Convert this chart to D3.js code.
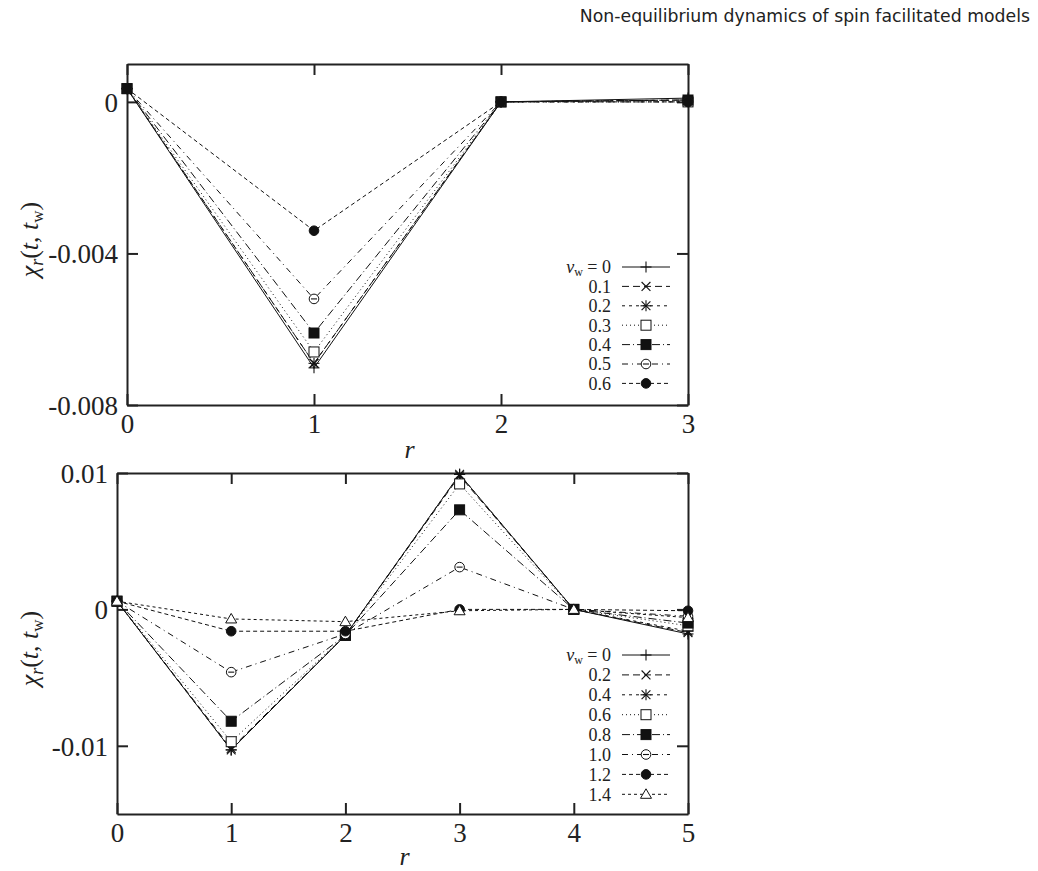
<!DOCTYPE html>
<html>
<head>
<meta charset="utf-8">
<script src="https://cdn.jsdelivr.net/npm/d3@7"></script>
<style>
  body { margin: 0; background: #fff; }
  svg text { fill: #222; }
</style>
</head>
<body>
<script>
// ---- data ----
const rTop = [0, 1, 2, 3]
const nuTop = ["0", "0.1", "0.2", "0.3", "0.4", "0.5", "0.6"]
const chiTop = [
  [0.00035, -0.00702, 0.0, 0.0001],
  [0.00035, -0.0069, 0.0, 0.00005],
  [0.00035, -0.0069, 0.0, 0.00005],
  [0.00035, -0.0066, 0.0, 0.0],
  [0.00035, -0.0061, 0.0, 0.00005],
  [0.00035, -0.0052, 0.0, 0.0],
  [0.00035, -0.0034, 0.0, 0.0]
]
const yTicksTop = [0, -0.004, -0.008]
const yTickLabelsTop = ["0", "-0.004", "-0.008"]

const rBot = [0, 1, 2, 3, 4, 5]
const nuBot = ["0", "0.2", "0.4", "0.6", "0.8", "1.0", "1.2", "1.4"]
const chiBot = [
  [0.0006, -0.0103, -0.0019, 0.0099, 0.0, -0.0018],
  [0.0006, -0.0102, -0.0019, 0.0098, 0.0, -0.0017],
  [0.0006, -0.0103, -0.0019, 0.0099, 0.0, -0.0016],
  [0.0006, -0.0097, -0.0019, 0.0092, 0.0, -0.0012],
  [0.0006, -0.0082, -0.0019, 0.0073, 0.0, -0.0010],
  [0.0006, -0.0046, -0.0018, 0.0031, 0.0, -0.0005],
  [0.0006, -0.0016, -0.0016, 0.0, 0.0, -0.0001],
  [0.0006, -0.0007, -0.0009, -0.0001, 0.0, -0.0006]
]
const yTicksBot = [0.01, 0, -0.01]
const yTickLabelsBot = ["0.01", "0", "-0.01"]

// line styles and point symbols, in legend order
const dashes = ["", "7,4", "3,4", "1,3", "8,3,1,3", "6,4,1,4", "4,3", "3,3"]
const symbols = ["plus", "cross", "star", "box", "boxF", "circ", "circF", "tri"]

const serif = "'Liberation Serif', 'DejaVu Serif', serif"

const svg = d3.select("body").append("svg")
  .attr("width", 1038).attr("height", 871)

svg.append("text")
  .attr("x", 1030).attr("y", 22)
  .attr("text-anchor", "end")
  .style("font-family", "'DejaVu Sans', sans-serif")
  .style("font-size", "17.3px")
  .text("Non-equilibrium dynamics of spin facilitated models")

function drawSymbol(g, type, x, y) {
  const s = 5.5
  const line = (x1, y1, x2, y2) => g.append("line")
    .attr("x1", x1).attr("y1", y1).attr("x2", x2).attr("y2", y2)
    .attr("stroke", "#111").attr("stroke-width", 1.1)
  if (type === "plus" || type === "star") {
    line(x - s, y, x + s, y); line(x, y - s, x, y + s)
  }
  if (type === "cross" || type === "star") {
    const k = s * 0.8
    line(x - k, y - k, x + k, y + k); line(x - k, y + k, x + k, y - k)
  }
  if (type === "box" || type === "boxF") {
    g.append("rect").attr("x", x - 5).attr("y", y - 5).attr("width", 10).attr("height", 10)
      .attr("fill", type === "boxF" ? "#111" : "#fff")
      .attr("stroke", "#111").attr("stroke-width", 1)
  }
  if (type === "circ" || type === "circF") {
    g.append("circle").attr("cx", x).attr("cy", y).attr("r", 4.8)
      .attr("fill", type === "circF" ? "#111" : "#fff")
      .attr("stroke", "#111").attr("stroke-width", 1)
    if (type === "circ") line(x - 3, y, x + 3, y)
  }
  if (type === "tri") {
    g.append("path")
      .attr("d", `M${x},${y - 5.5}L${x + 5.5},${y + 4}L${x - 5.5},${y + 4}Z`)
      .attr("fill", "#fff").attr("stroke", "#111").attr("stroke-width", 1)
  }
}

function ylabel(g, x, y) {
  const t = g.append("text")
    .attr("transform", `translate(${x},${y}) rotate(-90)`)
    .attr("text-anchor", "middle")
    .style("font-family", serif).style("font-size", "26px")
  t.append("tspan").style("font-style", "italic").text("χ")
  t.append("tspan").style("font-style", "italic").style("font-size", "18px").attr("dy", 5).text("r")
  t.append("tspan").attr("dy", -5).text("(")
  t.append("tspan").style("font-style", "italic").text("t")
  t.append("tspan").text(", ")
  t.append("tspan").style("font-style", "italic").text("t")
  t.append("tspan").style("font-size", "17px").attr("dy", 5).text("w")
  t.append("tspan").attr("dy", -5).text(")")
}

function drawPanel(p) {
  const x = d3.scaleLinear().domain(p.xDomain).range([p.left, p.right])
  const y = d3.scaleLinear().domain(p.yDomain).range([p.bottom, p.top])
  const g = svg.append("g")

  const tick = 11
  const fmt = (v) => p.yLabels[p.yTicks.indexOf(v)]

  const axB = g.append("g").attr("transform", `translate(0,${p.bottom})`)
    .call(d3.axisBottom(x).tickValues(p.xData).tickSizeInner(-tick).tickSizeOuter(0).tickPadding(9).tickFormat(d3.format("d")))
  const axT = g.append("g").attr("transform", `translate(0,${p.top})`)
    .call(d3.axisTop(x).tickValues(p.xData).tickSizeInner(-tick).tickSizeOuter(0).tickFormat(""))
  const axL = g.append("g").attr("transform", `translate(${p.left},0)`)
    .call(d3.axisLeft(y).tickValues(p.yTicks).tickSizeInner(-tick).tickSizeOuter(0).tickPadding(9).tickFormat(fmt))
  const axR = g.append("g").attr("transform", `translate(${p.right},0)`)
    .call(d3.axisRight(y).tickValues(p.yTicks).tickSizeInner(-tick).tickSizeOuter(0).tickFormat(""))
  ;[axB, axT, axL, axR].forEach(a => {
    a.selectAll("path, line").attr("stroke", "#222").attr("stroke-width", 2)
    a.selectAll("text").style("font-family", serif).style("font-size", "27px").attr("fill", "#222")
  })
  axL.selectAll("text").attr("dy", "0.35em")

  const lineFn = d3.line().x((d, i) => x(p.xData[i])).y(d => y(d))
  p.series.forEach((vals, k) => {
    g.append("path").datum(vals)
      .attr("d", lineFn)
      .attr("fill", "none").attr("stroke", "#111").attr("stroke-width", 1)
      .attr("stroke-dasharray", dashes[p.styleIdx[k]])
  })
  p.series.forEach((vals, k) => {
    vals.forEach((v, i) => drawSymbol(g, symbols[p.styleIdx[k]], x(p.xData[i]), y(v)))
  })

  // legend
  p.nu.forEach((n, k) => {
    const ly = p.legY + k * p.legStep
    const t = g.append("text").attr("x", 611).attr("y", ly).attr("dy", "0.35em")
      .attr("text-anchor", "end")
      .style("font-family", serif).style("font-size", "18px")
    if (k === 0) {
      t.append("tspan").style("font-style", "italic").text("ν")
      t.append("tspan").style("font-size", "12px").attr("dy", 3).text("w")
      t.append("tspan").attr("dy", -3).text(" = " + n)
    } else {
      t.text(n)
    }
    g.append("line").attr("x1", 622).attr("x2", 670).attr("y1", ly).attr("y2", ly)
      .attr("stroke", "#111").attr("stroke-width", 1)
      .attr("stroke-dasharray", dashes[p.styleIdx[k]])
    drawSymbol(g, symbols[p.styleIdx[k]], 646, ly)
  })

  g.append("text").attr("x", (p.left + p.right) / 2 + 2).attr("y", p.xLabY)
    .attr("text-anchor", "middle")
    .style("font-family", serif).style("font-size", "26px").style("font-style", "italic")
    .text("r")
  ylabel(g, 38, (p.top + p.bottom) / 2 + 5)
}

drawPanel({
  left: 127, right: 688, top: 64, bottom: 405,
  xDomain: [0, 3], yDomain: [-0.008, 0.001],
  xData: rTop, yTicks: yTicksTop, yLabels: yTickLabelsTop,
  series: chiTop, nu: nuTop, styleIdx: [0, 1, 2, 3, 4, 5, 6],
  legY: 267, legStep: 19.4, xLabY: 458
})

drawPanel({
  left: 117, right: 688, top: 473, bottom: 814,
  xDomain: [0, 5], yDomain: [-0.015, 0.01],
  xData: rBot, yTicks: yTicksBot, yLabels: yTickLabelsBot,
  series: chiBot, nu: nuBot, styleIdx: [0, 1, 2, 3, 4, 5, 6, 7],
  legY: 655, legStep: 19.9, xLabY: 865
})
</script>
</body>
</html>
